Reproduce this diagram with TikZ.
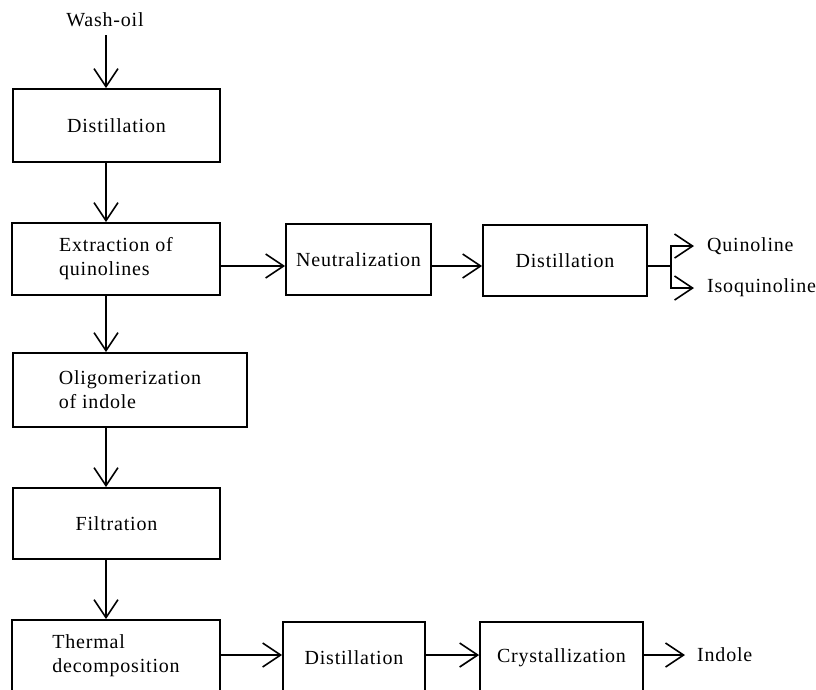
\documentclass[tikz,border=0pt]{standalone}
\usepackage{fontspec}
\setmainfont[LetterSpace=4]{Liberation Serif}
\usetikzlibrary{arrows.meta}
\begin{document}
\begin{tikzpicture}[x=1pt,y=-1pt,
  txt/.style={font=\fontsize{20}{24}\selectfont, inner sep=0pt, align=left},
  box/.style={draw, line width=1.8pt, txt, align=left},
  flow/.style={line width=1.6pt, -{Straight Barb[length=18pt,width=24pt,line width=1.6pt]}},
  plain/.style={line width=1.6pt}
]
\useasboundingbox (0,0) rectangle (816,689);
\clip (0,0) rectangle (816,689);
\coordinate (col) at (106,0);
% nodes
\node[txt] (W) at (105,20) {Wash-oil};
\node[box, minimum width=207pt, minimum height=73pt] (D1) at (116.5,125.5) {Distillation};
\node[box, minimum width=208pt, minimum height=72pt] (EX) at (116,259) {Extraction of\\quinolines};
\node[box, minimum width=145pt, minimum height=71pt] (NE) at (358.5,259.5) {Neutralization};
\node[box, minimum width=164pt, minimum height=71pt] (D2) at (565,260.5) {Distillation};
\node[box, minimum width=234pt, minimum height=74pt] (OL) at (130,390) {Oligomerization\\of indole};
\node[box, minimum width=207pt, minimum height=71pt] (FI) at (116.5,523.5) {Filtration};
\node[box, minimum width=208pt, minimum height=72pt] (TH) at (116,656) {Thermal\\decomposition};
\node[box, minimum width=142pt, minimum height=72pt] (D3) at (354,658) {Distillation};
\node[box, minimum width=163pt, minimum height=72pt] (CR) at (561.5,658) {Crystallization};
\node[txt, anchor=west] (Q) at (707,246) {Quinoline};
\node[txt, anchor=west] (IQ) at (707,288) {Isoquinoline};
\node[txt, anchor=west] (IN) at (697,655) {Indole};
\coordinate (br) at (671,266);
% vertical flow
\draw[flow] (W.south -| col) ++(0,8) -- (D1.north -| col);
\draw[flow] (D1.south -| col) -- (EX.north -| col);
\draw[flow] (EX.south -| col) -- (OL.north -| col);
\draw[flow] (OL.south -| col) -- (FI.north -| col);
\draw[flow] (FI.south -| col) -- (TH.north -| col);
% horizontal flow
\draw[flow] ([yshift=-7pt]EX.east) -- ([yshift=-6.5pt]NE.west);
\draw[flow] ([yshift=-6.5pt]NE.east) -- ([yshift=-5.5pt]D2.west);
\draw[plain] ([yshift=-5.5pt]D2.east) -- (br);
\draw[flow] (br) |- ([xshift=-13pt]Q.west);
\draw[flow] (br) |- ([xshift=-13pt]IQ.west);
\draw[flow] ([yshift=1pt]TH.east) -- ([yshift=3pt]D3.west);
\draw[flow] ([yshift=3pt]D3.east) -- ([yshift=3pt]CR.west);
\draw[flow] (CR.east |- IN.west) -- ([xshift=-12pt]IN.west);
\end{tikzpicture}
\end{document}
